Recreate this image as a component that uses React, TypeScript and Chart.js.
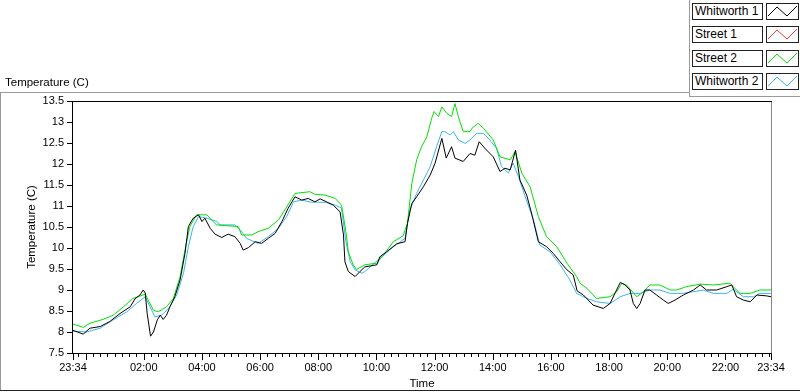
import React, { useEffect, useRef } from 'react';
import { Chart, registerables } from 'chart.js';

Chart.register(...registerables);

// ---- data (minutes after the 23:34 start, temperature in C) ----
const startClock = '23:34';
const spanMinutes = 1440;

const seriesNames = ['Whitworth 1', 'Street 1', 'Street 2', 'Whitworth 2'];
const seriesColors = ['#000000', '#f03c3c', '#00e000', '#3cb4f0'];

const w1Minutes = [0, 21, 35, 56, 76, 97, 118, 128, 138, 145, 149, 153, 160, 166, 174, 180, 186, 193, 200, 210, 221, 231, 238, 248, 259, 266, 272, 283, 293, 307, 320, 334, 345, 351, 362, 376, 389, 403, 417, 431, 444, 458, 472, 485, 499, 510, 523, 537, 551, 558, 561, 568, 582, 592, 602, 627, 633, 647, 668, 685, 690, 699, 709, 723, 737, 747, 761, 770, 781, 788, 805, 819, 829, 838, 850, 867, 881, 891, 902, 913, 922, 936, 946, 960, 977, 991, 1005, 1019, 1032, 1040, 1053, 1073, 1094, 1108, 1118, 1129, 1139, 1149, 1156, 1163, 1170, 1180, 1190, 1204, 1218, 1228, 1242, 1259, 1280, 1294, 1307, 1328, 1349, 1359, 1369, 1383, 1397, 1411, 1431, 1440];
const w1Temps = [8.04, 7.95, 8.09, 8.13, 8.25, 8.44, 8.60, 8.79, 8.88, 9.00, 8.93, 8.44, 7.90, 8.00, 8.29, 8.40, 8.30, 8.40, 8.60, 8.84, 9.24, 9.87, 10.51, 10.71, 10.79, 10.63, 10.71, 10.47, 10.33, 10.25, 10.33, 10.27, 10.11, 9.95, 10.01, 10.15, 10.11, 10.23, 10.35, 10.63, 10.95, 11.22, 11.14, 11.18, 11.10, 11.17, 11.10, 11.02, 10.86, 10.31, 9.67, 9.44, 9.32, 9.44, 9.55, 9.60, 9.79, 9.91, 10.10, 10.15, 10.59, 11.06, 11.22, 11.46, 11.74, 12.02, 12.61, 12.14, 12.41, 12.14, 12.06, 12.25, 12.21, 12.53, 12.37, 12.17, 11.82, 11.90, 11.86, 12.33, 11.62, 11.26, 10.83, 10.15, 10.03, 9.87, 9.67, 9.48, 9.36, 8.98, 8.88, 8.64, 8.56, 8.68, 8.92, 9.18, 9.12, 9.00, 8.68, 8.56, 8.68, 9.00, 9.00, 8.88, 8.76, 8.68, 8.76, 8.88, 9.00, 9.12, 9.00, 9.00, 9.08, 9.12, 8.84, 8.76, 8.72, 8.88, 8.86, 8.84];

const s1Minutes: number[] = [];
const s1Temps: number[] = [];

const s2Minutes = [0, 21, 35, 62, 83, 104, 124, 149, 155, 166, 176, 193, 207, 221, 231, 241, 255, 276, 296, 341, 348, 369, 382, 403, 424, 441, 458, 489, 499, 520, 541, 554, 563, 568, 578, 585, 602, 627, 640, 661, 681, 690, 699, 709, 719, 730, 740, 745, 754, 761, 771, 781, 788, 795, 805, 819, 823, 836, 847, 867, 881, 902, 912, 926, 943, 960, 977, 998, 1019, 1039, 1046, 1060, 1080, 1108, 1122, 1132, 1142, 1163, 1177, 1190, 1211, 1232, 1245, 1266, 1294, 1321, 1355, 1376, 1397, 1417, 1440];
const s2Temps = [8.19, 8.11, 8.21, 8.30, 8.40, 8.60, 8.80, 8.90, 8.76, 8.52, 8.48, 8.60, 8.80, 9.32, 9.95, 10.51, 10.79, 10.79, 10.55, 10.51, 10.31, 10.31, 10.39, 10.47, 10.67, 10.98, 11.30, 11.34, 11.28, 11.26, 11.18, 11.02, 10.39, 9.91, 9.60, 9.49, 9.60, 9.64, 9.83, 10.15, 10.29, 10.59, 11.54, 12.10, 12.41, 12.65, 13.09, 13.25, 13.13, 13.36, 13.21, 13.13, 13.44, 13.13, 12.77, 12.77, 12.85, 12.97, 12.85, 12.57, 12.17, 12.10, 12.29, 11.78, 11.46, 10.75, 10.27, 10.03, 9.64, 9.32, 9.16, 9.04, 8.80, 8.84, 8.96, 9.16, 9.12, 8.84, 8.96, 9.12, 9.12, 9.00, 9.00, 9.08, 9.14, 9.12, 9.16, 8.92, 8.92, 9.00, 9.00];

const w2Minutes = [0, 28, 56, 83, 111, 131, 149, 159, 169, 183, 200, 214, 228, 238, 248, 259, 276, 297, 303, 334, 345, 358, 382, 403, 424, 441, 455, 472, 492, 520, 541, 554, 563, 572, 582, 596, 602, 633, 661, 685, 695, 709, 723, 737, 750, 761, 767, 778, 785, 795, 809, 819, 833, 847, 860, 874, 884, 898, 908, 919, 933, 950, 963, 984, 1005, 1025, 1039, 1060, 1080, 1108, 1129, 1149, 1170, 1190, 1211, 1232, 1259, 1280, 1300, 1321, 1349, 1362, 1383, 1404, 1417, 1440];
const w2Temps = [8.02, 8.00, 8.09, 8.29, 8.48, 8.68, 8.84, 8.60, 8.36, 8.40, 8.60, 8.88, 9.40, 10.03, 10.51, 10.75, 10.71, 10.63, 10.55, 10.55, 10.43, 10.23, 10.11, 10.27, 10.47, 10.75, 11.10, 11.14, 11.09, 11.09, 11.02, 10.95, 10.15, 9.67, 9.48, 9.40, 9.44, 9.75, 10.03, 10.23, 10.90, 11.30, 11.62, 11.94, 12.41, 12.77, 12.77, 12.69, 12.77, 12.57, 12.49, 12.57, 12.73, 12.73, 12.57, 12.37, 11.94, 11.79, 12.02, 11.70, 11.22, 10.67, 10.07, 9.91, 9.60, 9.24, 8.92, 8.80, 8.72, 8.68, 8.84, 8.92, 8.92, 9.00, 9.00, 8.92, 8.92, 8.96, 9.00, 8.92, 8.92, 9.02, 8.84, 8.84, 8.92, 8.92];

const xLabelTimes = ['23:34', '02:00', '04:00', '06:00', '08:00', '10:00', '12:00', '14:00', '16:00', '18:00', '20:00', '22:00', '23:34'];
const yTickValues = [7.5, 8, 8.5, 9, 9.5, 10, 10.5, 11, 11.5, 12, 12.5, 13, 13.5];
const yTickLabels = ['7.5', '8', '8.5', '9', '9.5', '10', '10.5', '11', '11.5', '12', '12.5', '13', '13.5'];

const yTitle = 'Temperature (C)';
const xTitle = 'Time';

// ---- helpers ----
const clockToMin = (s: string) => {
  const [h, m] = s.split(':').map(Number);
  return h * 60 + m;
};
const startMin = clockToMin(startClock);
const labelMap = new Map<number, string>();
xLabelTimes.forEach((lab, i) => {
  const off = i === xLabelTimes.length - 1 ? spanMinutes : (clockToMin(lab) - startMin + 1440) % 1440;
  labelMap.set(off, lab);
});
const xTickValues: number[] = [0];
for (let t = 15 - (startMin % 15); t < spanMinutes; t += 15) xTickValues.push(t);
xTickValues.push(spanMinutes);
const isMajor = (t: number) => t === 0 || t === spanMinutes || (startMin + t) % 120 === 0;

const seriesMinutes = [w1Minutes, s1Minutes, s2Minutes, w2Minutes];
const seriesTemps = [w1Temps, s1Temps, s2Temps, w2Temps];

const FONT = '"Liberation Sans", Arial, sans-serif';

const framePlugin = {
  id: 'lvFrame',
  afterDraw(chart: any) {
    const { ctx, chartArea, scales } = chart;
    const { left, right, top, bottom } = chartArea;
    const L = Math.round(left), R = Math.round(right), T = Math.round(top), B = Math.round(bottom);
    const seg = (x1: number, y1: number, x2: number, y2: number) => {
      ctx.beginPath();
      ctx.moveTo(x1, y1);
      ctx.lineTo(x2, y2);
      ctx.stroke();
    };
    ctx.save();
    ctx.lineWidth = 1;
    ctx.strokeStyle = '#8a8a8a';
    seg(R + 0.5, T, R + 0.5, B + 1);
    ctx.strokeStyle = '#000';
    seg(L - 1, T + 0.5, R + 1, T + 0.5);
    seg(L - 0.5, T, L - 0.5, B + 1);
    seg(L - 1, B + 0.5, R + 1, B + 0.5);
    scales.y.ticks.forEach((tk: any) => {
      const y = Math.round(scales.y.getPixelForValue(tk.value)) + 0.5;
      seg(L - 6, y, L - 1, y);
    });
    scales.x.ticks.forEach((tk: any) => {
      const x = Math.round(scales.x.getPixelForValue(tk.value)) + 0.5;
      const len = isMajor(tk.value) ? 6 : 3;
      seg(x, B + 1, x, B + 1 + len);
    });
    ctx.restore();
  },
};

function LegendRow({ name, color, index }: { name: string; color: string; index: number }) {
  const top = Math.round(3 + index * 23.33);
  return (
    <>
      <div
        style={{
          position: 'absolute', left: 692, top, width: 71, height: 17, boxSizing: 'border-box',
          border: '1px solid #222', background: '#fff', fontFamily: FONT, fontSize: 12,
          lineHeight: '15px', paddingLeft: 2, color: '#000', whiteSpace: 'nowrap',
        }}
      >
        {name}
      </div>
      <div
        style={{
          position: 'absolute', left: 766, top, width: 33, height: 17, boxSizing: 'border-box',
          border: '1px solid #222', background: '#fff',
        }}
      >
        <svg width={31} height={15} style={{ display: 'block' }}>
          <polyline points="1,12 10,3 20,12 30,2" fill="none" stroke={color} strokeWidth={1} />
        </svg>
      </div>
    </>
  );
}

export default function App() {
  const canvasRef = useRef<HTMLCanvasElement | null>(null);

  useEffect(() => {
    const canvas = canvasRef.current;
    if (!canvas) return;
    const datasets = seriesNames.map((name, i) => ({
      label: name,
      data: seriesMinutes[i].map((m, j) => ({ x: m, y: seriesTemps[i][j] })),
      borderColor: seriesColors[i],
      backgroundColor: seriesColors[i],
      borderWidth: 1,
      pointRadius: 0,
      tension: 0,
      fill: false,
    }));
    const chart = new Chart(canvas, {
      type: 'line',
      data: { datasets },
      options: {
        responsive: false,
        animation: false,
        devicePixelRatio: 1,
        layout: { padding: { top: 101, right: 29, left: 0, bottom: 0 } },
        plugins: { legend: { display: false }, tooltip: { enabled: false } },
        scales: {
          x: {
            type: 'linear',
            position: 'bottom',
            min: 0,
            max: spanMinutes,
            grid: { display: false, drawTicks: false },
            border: { display: false },
            afterBuildTicks: (scale: any) => {
              scale.ticks = xTickValues.map((v) => ({ value: v }));
            },
            afterFit: (scale: any) => {
              scale.height = 39;
            },
            ticks: {
              autoSkip: false,
              maxRotation: 0,
              minRotation: 0,
              padding: 8,
              color: '#000',
              font: { family: FONT, size: 11 },
              callback: (v: any) => labelMap.get(Number(v)) ?? '',
            },
            title: {
              display: true,
              text: xTitle,
              color: '#000',
              font: { family: FONT, size: 11.5 },
              padding: { top: 0, bottom: 1 },
            },
          },
          y: {
            type: 'linear',
            min: yTickValues[0],
            max: yTickValues[yTickValues.length - 1],
            grid: { display: false, drawTicks: false },
            border: { display: false },
            afterBuildTicks: (scale: any) => {
              scale.ticks = yTickValues.map((v) => ({ value: v }));
            },
            afterFit: (scale: any) => {
              scale.width = 73;
            },
            ticks: {
              padding: 9,
              color: '#000',
              font: { family: FONT, size: 11 },
              callback: (v: any) => yTickLabels[yTickValues.indexOf(Number(v))] ?? '',
            },
            title: {
              display: true,
              text: yTitle,
              color: '#000',
              font: { family: FONT, size: 11.5 },
              padding: { top: 25, bottom: 0 },
            },
          },
        },
      },
      plugins: [framePlugin],
    } as any);
    return () => chart.destroy();
  }, []);

  return (
    <div style={{ position: 'fixed', left: 0, top: 0, width: 800, height: 392, background: '#fff', overflow: 'hidden' }}>
      <canvas ref={canvasRef} width={800} height={392} style={{ position: 'absolute', left: 0, top: 0, width: 800, height: 392 }} />
      {/* frame lines */}
      <div style={{ position: 'absolute', left: 0, top: 92, width: 689, height: 1, background: '#9a9a9a' }} />
      <div style={{ position: 'absolute', left: 689, top: 0, width: 1, height: 97, background: '#9a9a9a' }} />
      <div style={{ position: 'absolute', left: 689, top: 96, width: 111, height: 1, background: '#9a9a9a' }} />
      <div style={{ position: 'absolute', left: 0, top: 92, width: 1, height: 298, background: '#9a9a9a' }} />
      <div style={{ position: 'absolute', left: 0, top: 390, width: 800, height: 1, background: '#222' }} />
      <div
        style={{
          position: 'absolute', left: 5, top: 75, fontFamily: FONT, fontSize: 11.5,
          lineHeight: '14px', color: '#000', whiteSpace: 'nowrap',
        }}
      >
        {yTitle}
      </div>
      {seriesNames.map((n, i) => (
        <LegendRow key={n} name={n} color={seriesColors[i]} index={i} />
      ))}
    </div>
  );
}
